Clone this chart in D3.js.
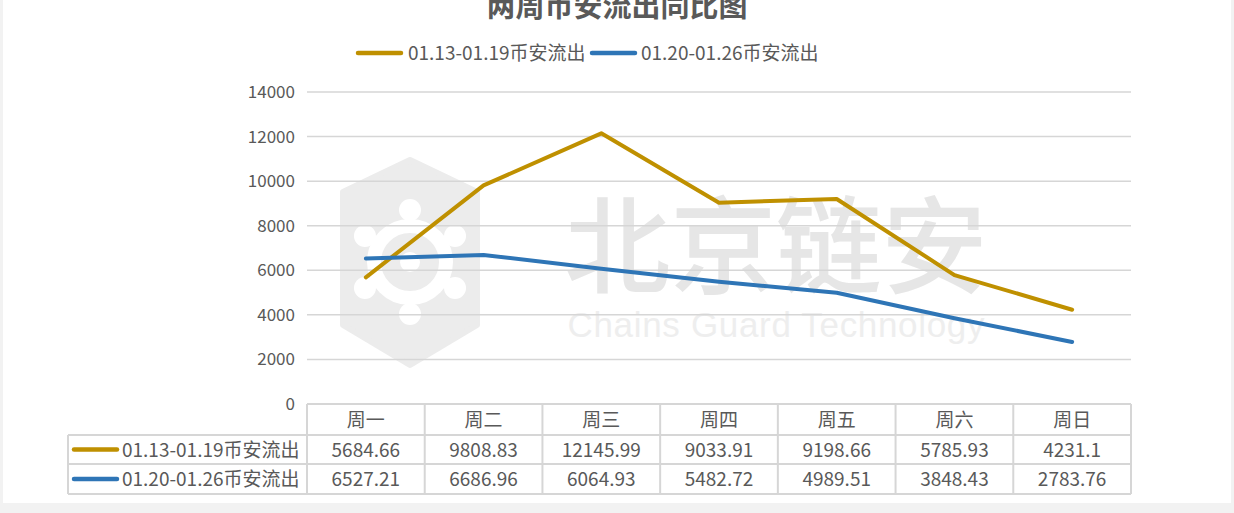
<!DOCTYPE html>
<html>
<head>
<meta charset="utf-8">
<script src="https://cdn.jsdelivr.net/npm/d3@7"></script>
<style>
  html, body { margin: 0; padding: 0; background: #f2f2f2; }
  svg { display: block; }
  text { font-family: "Noto Sans CJK SC", "Noto Sans", sans-serif; }
</style>
</head>
<body>
<svg id="chart" width="1234" height="513"></svg>
<script>
// Weekly Binance outflow, two consecutive weeks
const categories = ["周一", "周二", "周三", "周四", "周五", "周六", "周日"];
const seriesNames = ["01.13-01.19币安流出", "01.20-01.26币安流出"];
const week1 = [5684.66, 9808.83, 12145.99, 9033.91, 9198.66, 5785.93, 4231.1];
const week2 = [6527.21, 6686.96, 6064.93, 5482.72, 4989.51, 3848.43, 2783.76];
const yTicks = [0, 2000, 4000, 6000, 8000, 10000, 12000, 14000];
const title = "两周币安流出同比图";

const colors = ["#BF9000", "#2E75B6"];
const series = [week1, week2];

const svg = d3.select("#chart");
const textColor = "#595959";
const gridColor = "#d6d6d6";

// chart canvas
svg.append("rect").attr("x", 3).attr("y", 0).attr("width", 1228).attr("height", 503).attr("fill", "#ffffff");

const plot = { left: 307, right: 1131, top: 92, bottom: 404 };
const x = d3.scaleBand().domain(categories).range([plot.left, plot.right]).padding(0);
const y = d3.scaleLinear().domain([0, 14000]).range([plot.bottom, plot.top]);

// watermark
const wm = svg.append("g").attr("class", "watermark");
const cx = 410, cy = 262;
const hex = [[cx, 160], [cx + 67, 192], [cx + 67, 325], [cx, 365], [cx - 67, 325], [cx - 67, 192]];
wm.append("path").attr("d", d3.line()(hex) + "Z").attr("fill", "#ececec").attr("stroke", "#ececec").attr("stroke-width", 6).attr("stroke-linejoin", "round");
const gear = wm.append("g").attr("fill", "none").attr("stroke", "#ffffff");
gear.append("circle").attr("cx", cx).attr("cy", cy).attr("r", 36).attr("stroke-width", 14);
d3.range(6).forEach(i => {
  const a = Math.PI / 6 + i * Math.PI / 3;
  gear.append("circle").attr("cx", cx + Math.cos(a) * 52).attr("cy", cy + Math.sin(a) * 52)
    .attr("r", 11).attr("fill", "#ffffff").attr("stroke", "none");
});
gear.append("circle").attr("cx", cx).attr("cy", cy).attr("r", 10).attr("fill", "#ffffff").attr("stroke", "none");
wm.append("text").attr("x", 776).attr("y", 285).attr("text-anchor", "middle")
  .attr("font-size", 106).attr("font-weight", 500).attr("fill", "#e6e6e6").attr("textLength", 423)
  .text("北京链安");
wm.append("text").attr("x", 776).attr("y", 337).attr("text-anchor", "middle")
  .attr("font-size", 35).attr("fill", "#eeeeee").attr("textLength", 417)
  .style("font-family", "'Liberation Sans', Arial, sans-serif")
  .text("Chains Guard Technology");

// gridlines
svg.append("g").selectAll("line").data(yTicks.filter(d => d > 0)).join("line")
  .attr("x1", plot.left).attr("x2", plot.right)
  .attr("y1", d => y(d)).attr("y2", d => y(d))
  .attr("stroke", gridColor).attr("stroke-width", 1.5);

// y-axis labels
const yAxis = d3.axisLeft(y).tickValues(yTicks).tickSize(0).tickPadding(12).tickFormat(d3.format("d"));
const ya = svg.append("g").attr("transform", `translate(${plot.left},0)`).call(yAxis);
ya.select(".domain").remove();
ya.selectAll("text").attr("fill", textColor).attr("font-size", 17)
  .style("font-family", "'Noto Sans CJK SC', sans-serif");

// title
svg.append("text").attr("x", 617).attr("y", 17).attr("text-anchor", "middle")
  .attr("font-size", 29).attr("font-weight", "bold").attr("fill", textColor).text(title);

// top legend
const legendItems = [{ x: 358, tx: 408 }, { x: 592, tx: 641 }];
legendItems.forEach((l, i) => {
  svg.append("line").attr("x1", l.x).attr("x2", l.x + 43).attr("y1", 53).attr("y2", 53)
    .attr("stroke", colors[i]).attr("stroke-width", 4.5).attr("stroke-linecap", "round");
  svg.append("text").attr("x", l.tx).attr("y", 60).attr("font-size", 19).attr("fill", textColor)
    .text(seriesNames[i]);
});

// data table
const rowTop = [404, 435, 464, 494];
const tbl = svg.append("g").attr("stroke", gridColor).attr("stroke-width", 2).attr("fill", "none");
// horizontal borders
tbl.append("line").attr("x1", plot.left).attr("x2", plot.right).attr("y1", rowTop[0]).attr("y2", rowTop[0]);
[1, 2, 3].forEach(r => {
  tbl.append("line").attr("x1", 68).attr("x2", plot.right).attr("y1", rowTop[r]).attr("y2", rowTop[r]);
});
// vertical borders
const colEdges = categories.map(c => x(c)).concat([plot.right]);
colEdges.forEach(e => {
  tbl.append("line").attr("x1", e).attr("x2", e).attr("y1", rowTop[0]).attr("y2", rowTop[3]);
});
tbl.append("line").attr("x1", 68).attr("x2", 68).attr("y1", rowTop[1]).attr("y2", rowTop[3]);

// header labels
svg.append("g").selectAll("text").data(categories).join("text")
  .attr("x", d => x(d) + x.bandwidth() / 2).attr("y", 427).attr("text-anchor", "middle")
  .attr("font-size", 19).attr("fill", textColor).text(d => d);

// series rows
series.forEach((vals, i) => {
  const yMid = (rowTop[i + 1] + rowTop[i + 2]) / 2;
  svg.append("line").attr("x1", 74).attr("x2", 117).attr("y1", yMid).attr("y2", yMid)
    .attr("stroke", colors[i]).attr("stroke-width", 4.5).attr("stroke-linecap", "round");
  svg.append("text").attr("x", 122).attr("y", yMid + 7).attr("font-size", 19).attr("fill", textColor)
    .text(seriesNames[i]);
  svg.append("g").selectAll("text").data(vals).join("text")
    .attr("x", (d, j) => x(categories[j]) + x.bandwidth() / 2).attr("y", yMid + 7)
    .attr("text-anchor", "middle").attr("font-size", 19).attr("fill", textColor)
    .text(d => String(d));
});

// lines
const line = d3.line()
  .x((d, j) => x(categories[j]) + x.bandwidth() / 2)
  .y(d => y(d));
series.forEach((vals, i) => {
  svg.append("path").datum(vals).attr("d", line).attr("fill", "none")
    .attr("stroke", colors[i]).attr("stroke-width", 4).attr("stroke-linejoin", "round").attr("stroke-linecap", "round");
});
</script>
</body>
</html>
